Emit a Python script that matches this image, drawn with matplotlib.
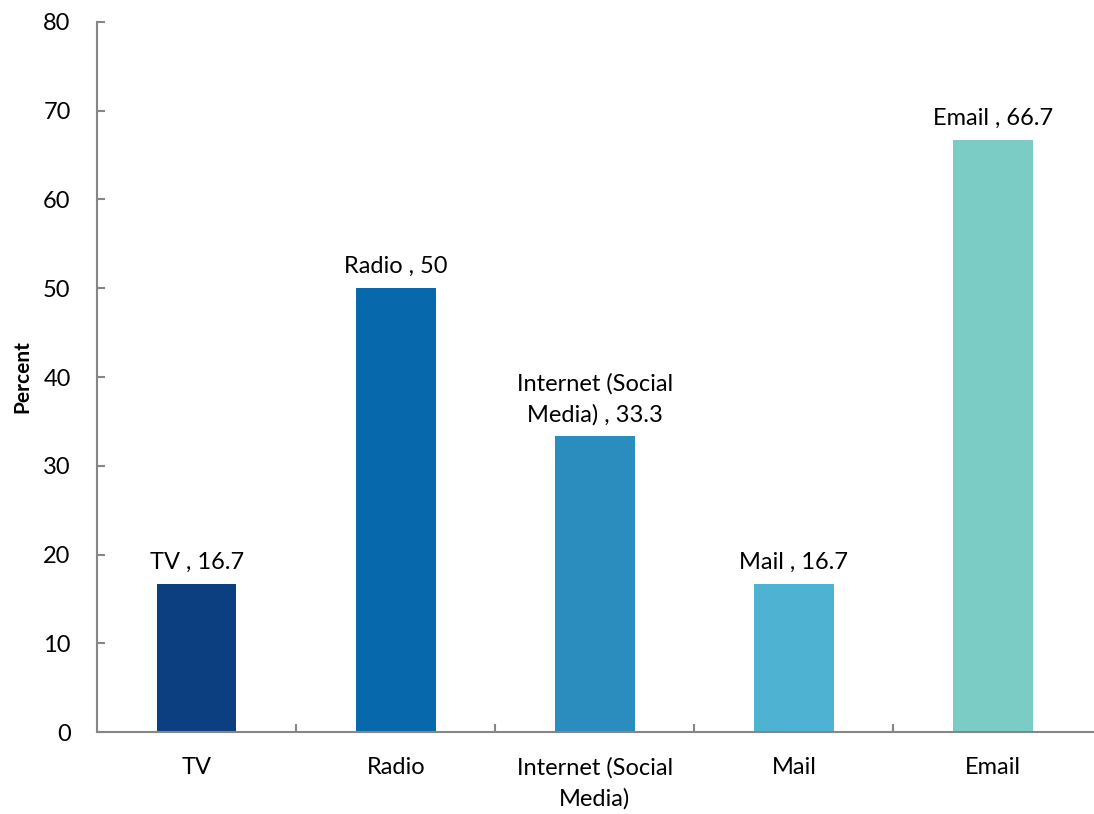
import matplotlib.pyplot as plt
import numpy as np

# ---------- Data ----------
categories = ["TV", "Radio", "Internet (Social\nMedia)", "Mail", "Email"]
point_labels = ["TV", "Radio", "Internet (Social\nMedia)", "Mail", "Email"]
values = [16.7, 50, 33.3, 16.7, 66.7]
value_text = ["16.7", "50", "33.3", "16.7", "66.7"]
colors = ["#0B3F7F", "#0868AC", "#2B8CBE", "#4EB3D3", "#7BCCC4"]

plt.rcParams['font.family'] = ['Lato', 'DejaVu Sans']
FS = 17

fig = plt.figure(figsize=(10.94, 8.14), dpi=100)
ax = fig.add_axes([0.0887, 0.1007, 0.91, 0.8723])

x = np.arange(len(categories))
ax.bar(x, values, width=0.4, color=colors, zorder=2)

for xi, v, lab, vt in zip(x, values, point_labels, value_text):
    ax.annotate(f"{lab} , {vt}", (xi, v), xytext=(0, 8), textcoords="offset points",
                ha="center", va="bottom", fontsize=FS, linespacing=1.55)

ax.set_xlim(-0.5, len(categories) - 0.5)
ax.set_ylim(0, 80)
ax.set_yticks(range(0, 81, 10))
ax.set_xticks(x)
ax.set_xticklabels(categories, fontsize=FS, linespacing=1.55)
ax.set_xticks(np.arange(0.5, len(categories) - 0.5, 1), minor=True)
ax.tick_params(axis="x", which="major", length=0, pad=18)
ax.tick_params(axis="x", which="minor", direction="in", length=6, color="#868686", width=1.5)
ax.tick_params(axis="y", direction="in", length=6, color="#868686", width=1.5, labelsize=FS, pad=19)

ax.set_ylabel("Percent", fontsize=15, fontweight="bold", labelpad=8)

for s in ["top", "right"]:
    ax.spines[s].set_visible(False)
for s in ["left", "bottom"]:
    ax.spines[s].set_color("#868686")
    ax.spines[s].set_linewidth(1.5)

fig.savefig("out.png", dpi=100)
